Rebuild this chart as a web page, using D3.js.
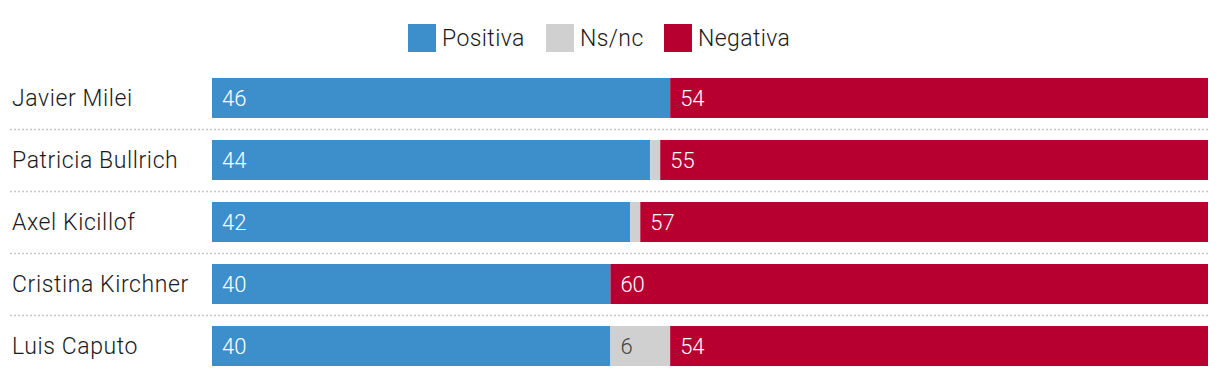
<!DOCTYPE html>
<html>
<head>
<meta charset="utf-8">
<script src="https://cdn.jsdelivr.net/npm/d3@7"></script>
<style>
  body { margin: 0; background: #fff; }
  text { font-family: Roboto, "Liberation Sans", sans-serif; font-weight: 300; }
</style>
</head>
<body>
<div id="canvas"></div>
<script>
var names = ['Javier Milei', 'Patricia Bullrich', 'Axel Kicillof', 'Cristina Kirchner', 'Luis Caputo'];
var positiva = [46, 44, 42, 40, 40];
var nsnc = [0, 1, 1, 0, 6];
var negativa = [54, 55, 57, 60, 54];
var seriesNames = ['Positiva', 'Ns/nc', 'Negativa'];
var seriesColors = ['#3d8fcb', '#d0d0d0', '#b80030'];

var W = 1220, H = 388;
var m = {t: 78, l: 212, r: 12};

var svg = d3.select('#canvas').append('svg')
    .attr('width', W).attr('height', H);

var rows = names.map(function(n, i){
    return {name: n, Positiva: positiva[i], 'Ns/nc': nsnc[i], Negativa: negativa[i]};
});
var stacked = d3.stack().keys(seriesNames)(rows);

var x = d3.scaleLinear().domain([0, 100]).range([m.l, W - m.r]);
var y = d3.scaleBand().domain(names).range([m.t - 11, m.t - 11 + 62 * names.length]).paddingInner(0.355).paddingOuter(0.177);
var color = d3.scaleOrdinal().domain(seriesNames).range(seriesColors);

// legend
var legend = svg.append('g').attr('transform', 'translate(408,24)');
var lx = [0, 138, 256];
seriesNames.forEach(function(s, i){
    var g = legend.append('g').attr('transform', 'translate(' + lx[i] + ',0)');
    g.append('rect').attr('width', 28).attr('height', 28).attr('fill', color(s));
    g.append('text').attr('x', 34).attr('y', 14).attr('dy', '0.36em')
        .attr('font-size', 23).attr('letter-spacing', 0.4).attr('fill', '#1a1a1a').text(s);
});

// separators
svg.append('g').selectAll('line').data(names.slice(1)).join('line')
    .attr('x1', 10).attr('x2', W - m.r)
    .attr('y1', function(d){ return Math.round(y(d) - (y.step() - y.bandwidth()) / 2) + 0.5; })
    .attr('y2', function(d){ return Math.round(y(d) - (y.step() - y.bandwidth()) / 2) + 0.5; })
    .attr('stroke', '#c8c8c8').attr('stroke-width', 1.5).attr('stroke-dasharray', '2,2');

// row labels
svg.append('g').selectAll('text').data(names).join('text')
    .attr('x', 12).attr('y', function(d){ return y(d) + y.bandwidth() / 2; })
    .attr('dy', '0.36em').attr('font-size', 23).attr('letter-spacing', 0.6).attr('fill', '#1a1a1a')
    .text(function(d){ return d; });

// bars
var layer = svg.append('g').selectAll('g').data(stacked).join('g')
    .attr('fill', function(d){ return color(d.key); });
layer.selectAll('rect').data(function(d){ return d; }).join('rect')
    .attr('x', function(d){ return x(d[0]); })
    .attr('width', function(d){ return x(d[1]) - x(d[0]); })
    .attr('y', function(d){ return y(d.data.name); })
    .attr('height', y.bandwidth());

// values
svg.append('g').selectAll('g').data(stacked).join('g')
    .each(function(s){
        d3.select(this).selectAll('text').data(s.filter(function(d){ return d[1] - d[0] >= 3; })).join('text')
            .attr('x', function(d){ return x(d[0]) + 10; })
            .attr('y', function(d){ return y(d.data.name) + y.bandwidth() / 2; })
            .attr('dy', '0.36em').attr('font-size', 22)
            .attr('fill', s.key === 'Ns/nc' ? '#444' : '#fff')
            .text(function(d){ return d[1] - d[0]; });
    });
</script>
</body>
</html>
